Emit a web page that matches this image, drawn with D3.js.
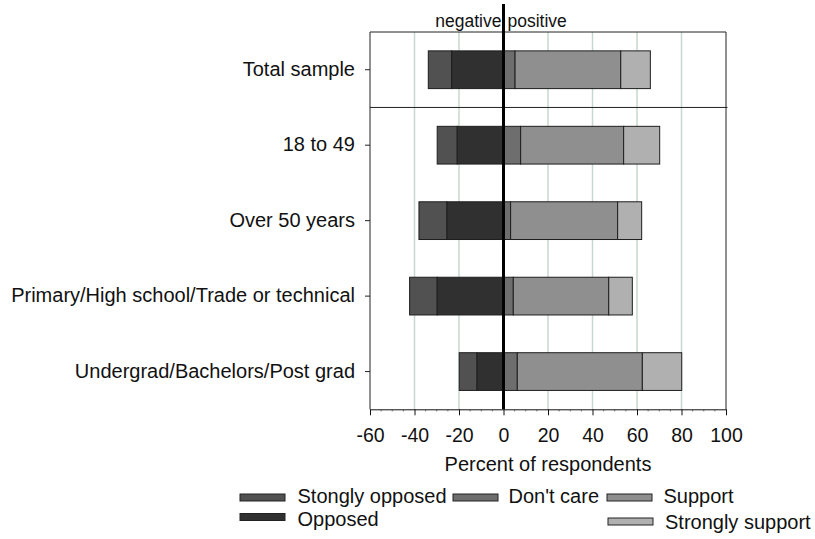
<!DOCTYPE html>
<html>
<head>
<meta charset="utf-8">
<script src="https://cdn.jsdelivr.net/npm/d3@7"></script>
<style>
  html, body { margin: 0; padding: 0; background: #fff; }
  svg { display: block; font-family: "Liberation Sans", Arial, sans-serif; }
</style>
</head>
<body>
<svg id="chart" width="815" height="539"></svg>
<script>
const categories = ["Total sample", "18 to 49", "Over 50 years",
  "Primary/High school/Trade or technical", "Undergrad/Bachelors/Post grad"];
const stronglyOpposed = [10.5, 9.0, 12.6, 12.4, 8.0];
const opposed         = [23.3, 20.8, 25.4, 29.8, 11.9];
const dontCare        = [5.2, 7.7, 3.2, 4.4, 6.2];
const support         = [47.5, 46.3, 48.1, 42.9, 56.2];
const stronglySupport = [13.3, 16.2, 10.8, 10.6, 17.7];
const seriesNames = ["Stongly opposed", "Opposed", "Don't care", "Support", "Strongly support"];
const xTicks = [-60, -40, -20, 0, 20, 40, 60, 80, 100];
const xLabel = "Percent of respondents";

const colors = ["#515151", "#303030", "#6e6e6e", "#8f8f8f", "#b0b0b0"];

const svg = d3.select("#chart");
const L = 370, R = 726, T = 32, B = 409.3;

const x = d3.scaleLinear().domain([-60, 100]).range([L, R]);
const y = d3.scaleBand().domain(categories).range([T, B]).paddingInner(0.5).paddingOuter(0.25);

// gridlines
svg.append("g").selectAll("line")
  .data(xTicks.filter(d => d > -60 && d < 100 && d !== 0))
  .join("line")
  .attr("x1", d => x(d)).attr("x2", d => x(d))
  .attr("y1", T).attr("y2", B)
  .attr("stroke", "#c6d8ce").attr("stroke-width", 1.5);

// build segments
const segs = [];
categories.forEach((c, i) => {
  const so = stronglyOpposed[i], o = opposed[i], dc = dontCare[i], s = support[i], ss = stronglySupport[i];
  segs.push({c, k: 0, x0: -(o + so), x1: -o});
  segs.push({c, k: 1, x0: -o, x1: 0});
  segs.push({c, k: 2, x0: 0, x1: dc});
  segs.push({c, k: 3, x0: dc, x1: dc + s});
  segs.push({c, k: 4, x0: dc + s, x1: dc + s + ss});
});

svg.append("g").selectAll("rect")
  .data(segs)
  .join("rect")
  .attr("x", d => x(d.x0))
  .attr("width", d => x(d.x1) - x(d.x0))
  .attr("y", d => y(d.c))
  .attr("height", y.bandwidth())
  .attr("fill", d => colors[d.k])
  .attr("stroke", "#1e1e1e")
  .attr("stroke-width", 1);

// frame
const frame = svg.append("g").attr("stroke", "#222").attr("stroke-width", 1).attr("fill", "none");
frame.append("line").attr("x1", L).attr("x2", R).attr("y1", T).attr("y2", T);
frame.append("line").attr("x1", R).attr("x2", R).attr("y1", T).attr("y2", B);
const sepY = (y(categories[0]) + y.bandwidth() + y(categories[1])) / 2;
frame.append("line").attr("x1", L).attr("x2", R + 1.5).attr("y1", sepY).attr("y2", sepY);

// bottom axis
const xAxis = d3.axisBottom(x).tickValues(xTicks).tickSize(6).tickSizeOuter(0)
  .tickFormat(d => String(d));
const gx = svg.append("g").attr("transform", `translate(0,${B})`).call(xAxis);
gx.select(".domain").attr("stroke", "#111");
gx.selectAll(".tick line").attr("stroke", "#111");
gx.selectAll(".tick text").attr("font-size", "19.5px").attr("fill", "#111")
  .attr("font-family", "'Liberation Sans', Arial, sans-serif").attr("dy", 0).attr("y", 32.4);
const minor = d3.range(-60, 101, 5).filter(d => d % 20 !== 0);
svg.append("g").selectAll("line").data(minor).join("line")
  .attr("x1", d => x(d)).attr("x2", d => x(d))
  .attr("y1", B).attr("y2", B + 2).attr("stroke", "#555");

// left axis
const yAxis = d3.axisLeft(y).tickSize(5).tickSizeOuter(0).tickPadding(10);
const gy = svg.append("g").attr("transform", `translate(${L},0)`).call(yAxis);
gy.select(".domain").attr("stroke", "#222").attr("d", `M0,${T}V${B}`);
gy.selectAll(".tick line").attr("stroke", "#222");
gy.selectAll(".tick text").attr("font-size", "20px").attr("fill", "#111")
  .attr("font-family", "'Liberation Sans', Arial, sans-serif").attr("dy", "0.3em");

// zero line
svg.append("line").attr("x1", x(0)).attr("x2", x(0)).attr("y1", 4).attr("y2", B)
  .attr("stroke", "#000").attr("stroke-width", 3);

// top labels
svg.append("text").attr("x", x(0) - 2).attr("y", 26.5).attr("text-anchor", "end")
  .attr("font-size", "17.5px").attr("fill", "#111").text("negative");
svg.append("text").attr("x", x(0) + 4).attr("y", 26.5).attr("text-anchor", "start")
  .attr("font-size", "17.5px").attr("fill", "#111").text("positive");

// axis title
svg.append("text").attr("x", (L + R) / 2).attr("y", 470.7).attr("text-anchor", "middle")
  .attr("font-size", "20px").attr("fill", "#111").text(xLabel);

// legend
const legendPos = [
  {sx: 240, sy: 494, tx: 297.5, ty: 503},
  {sx: 240, sy: 513.5, tx: 297.5, ty: 525.5},
  {sx: 453, sy: 494, tx: 508.5, ty: 503},
  {sx: 607, sy: 494, tx: 663.5, ty: 503},
  {sx: 608, sy: 518, tx: 665, ty: 528.5}
];
const lg = svg.append("g");
seriesNames.forEach((n, i) => {
  const p = legendPos[i];
  lg.append("rect").attr("x", p.sx).attr("y", p.sy).attr("width", 45).attr("height", 7)
    .attr("fill", colors[i]).attr("stroke", "#222").attr("stroke-width", 1);
  lg.append("text").attr("x", p.tx).attr("y", p.ty).attr("font-size", "20px")
    .attr("fill", "#111").text(n);
});
</script>
</body>
</html>
